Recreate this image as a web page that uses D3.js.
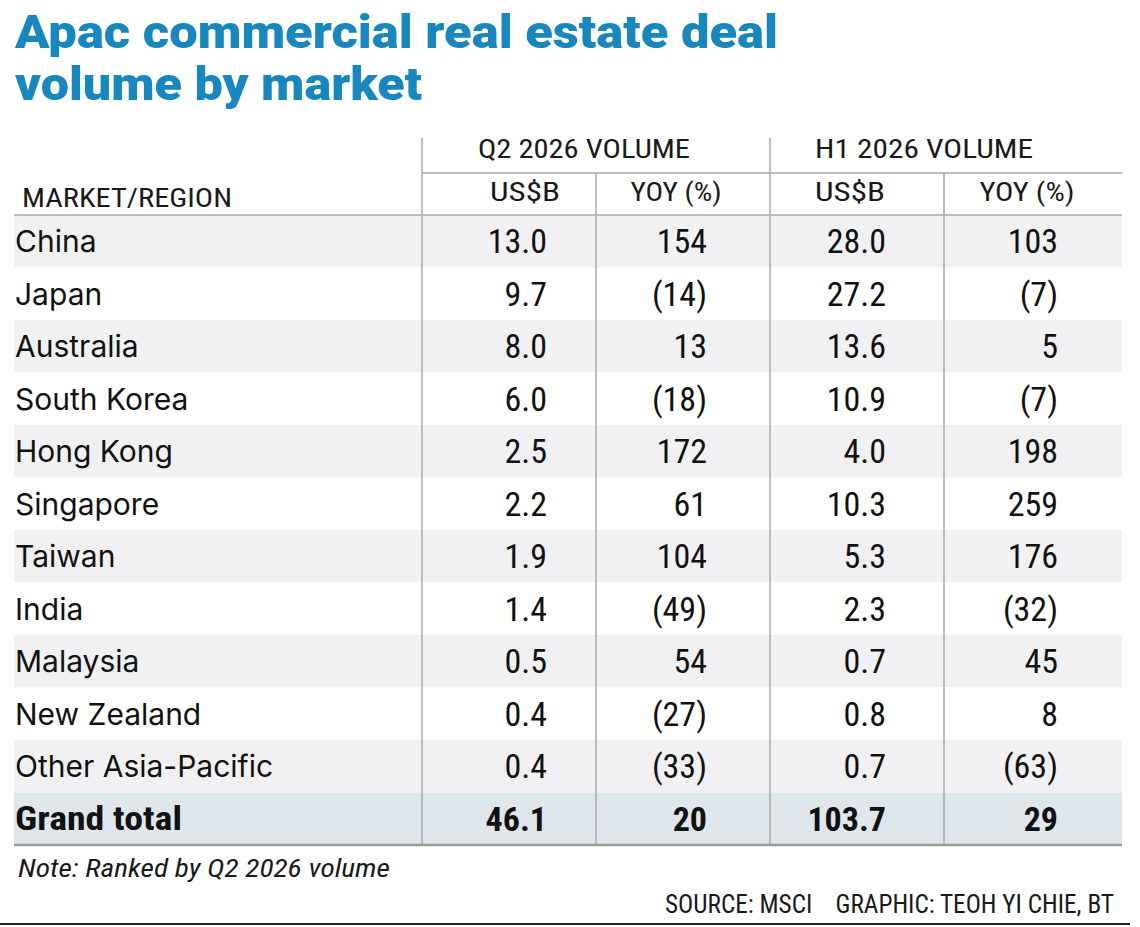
<!DOCTYPE html>
<html>
<head>
<meta charset="utf-8">
<script src="https://cdn.jsdelivr.net/npm/d3@7"></script>
<style>
  body { margin: 0; background: #fff; }
  svg { display: block; }
</style>
</head>
<body>
<div class="table_container"></div>
<script>
// data
const markets = ["China", "Japan", "Australia", "South Korea", "Hong Kong", "Singapore", "Taiwan", "India", "Malaysia", "New Zealand", "Other Asia-Pacific"];
const q2Volume = [13.0, 9.7, 8.0, 6.0, 2.5, 2.2, 1.9, 1.4, 0.5, 0.4, 0.4];
const q2Yoy = [154, -14, 13, -18, 172, 61, 104, -49, 54, -27, -33];
const h1Volume = [28.0, 27.2, 13.6, 10.9, 4.0, 10.3, 5.3, 2.3, 0.7, 0.8, 0.7];
const h1Yoy = [103, -7, 5, -7, 198, 259, 176, -32, 45, 8, -63];
const totalLabel = "Grand total";
const totals = [46.1, 20, 103.7, 29];
const groupHeaders = ["Q2 2026 VOLUME", "H1 2026 VOLUME"];
const subHeaders = ["US$B", "YOY (%)", "US$B", "YOY (%)"];

//^ DIMENSIONS //
const W = 1140, H = 927;
const tableLeft = 14, tableRight = 1122;
const colEdges = [422, 596, 770, 944, 1122];
const numRight = [547, 707, 886, 1058];
const subCenters = [525, 676, 850, 1027];
const subWidths = [70, 91, 70, 95];
const groupCenters = [584, 924];
const groupWidths = [212, 218];

const labelFont = "Inter, 'Noto Sans', sans-serif";
const narrowFont = "'Roboto Condensed', 'Liberation Sans Narrow', 'DejaVu Sans Condensed', sans-serif";

const svg = d3.select(".table_container").append("svg").attr("width", W).attr("height", H);

// fit text to a target width
function fit(sel, w) {
  sel.attr("textLength", w).attr("lengthAdjust", "spacingAndGlyphs");
}

//^ TITLE //
const titleLines = ["Apac commercial real estate deal", "volume by market"];
const titleWidths = [763, 407];
svg.selectAll(".title").data(titleLines).join("text")
  .attr("class", "title")
  .attr("x", 15)
  .attr("y", (d, i) => 48 + i * 52)
  .attr("font-family", "Roboto, sans-serif")
  .attr("font-weight", 900)
  .attr("font-size", 47)
  .attr("fill", "#1787bd")
  .text(d => d)
  .each(function (d, i) { fit(d3.select(this), titleWidths[i]); });

//^ ROW SCALE //
const rows = markets.concat([totalLabel]);
const y = d3.scaleBand().domain(rows).range([215, 845]);
const fmtVol = d3.format(".1f");
const fmtYoy = v => v < 0 ? "(" + Math.abs(v) + ")" : String(v);

const tableRows = markets.map((m, i) => ({
  name: m,
  values: [fmtVol(q2Volume[i]), fmtYoy(q2Yoy[i]), fmtVol(h1Volume[i]), fmtYoy(h1Yoy[i])],
  total: false
}));
tableRows.push({
  name: totalLabel,
  values: [fmtVol(totals[0]), fmtYoy(totals[1]), fmtVol(totals[2]), fmtYoy(totals[3])],
  total: true
});

// row backgrounds
svg.selectAll(".band").data(tableRows).join("rect")
  .attr("class", "band")
  .attr("x", tableLeft)
  .attr("y", d => y(d.name))
  .attr("width", tableRight - tableLeft)
  .attr("height", y.bandwidth())
  .attr("fill", (d, i) => d.total ? "#dfe7ed" : (i % 2 === 0 ? "#f1f1f3" : "#ffffff"));

//^ GRID LINES //
const lineColor = "#a9a9a9";
// group dividers (tall)
svg.selectAll(".vgroup").data([colEdges[0], colEdges[2]]).join("line")
  .attr("x1", d => d).attr("x2", d => d)
  .attr("y1", 138).attr("y2", 845)
  .attr("stroke", lineColor).attr("stroke-width", 1.5);
// sub dividers
svg.selectAll(".vsub").data([colEdges[1], colEdges[3]]).join("line")
  .attr("x1", d => d).attr("x2", d => d)
  .attr("y1", 173).attr("y2", 845)
  .attr("stroke", lineColor).attr("stroke-width", 1.5);
// header horizontal lines
svg.append("line").attr("x1", colEdges[0]).attr("x2", tableRight).attr("y1", 173).attr("y2", 173)
  .attr("stroke", lineColor).attr("stroke-width", 1.5);
svg.append("line").attr("x1", tableLeft).attr("x2", tableRight).attr("y1", 215).attr("y2", 215)
  .attr("stroke", lineColor).attr("stroke-width", 1.5);
svg.append("line").attr("x1", tableLeft).attr("x2", tableRight).attr("y1", 845).attr("y2", 845)
  .attr("stroke", "#9a9a9a").attr("stroke-width", 2.5);

//^ HEADERS //
svg.selectAll(".ghead").data(groupHeaders).join("text")
  .attr("x", (d, i) => groupCenters[i]).attr("y", 158)
  .attr("text-anchor", "middle")
  .attr("font-family", narrowFont).attr("font-size", 26).attr("fill", "#1a1a1a")
  .text(d => d)
  .each(function (d, i) { fit(d3.select(this), groupWidths[i]); });
svg.selectAll(".shead").data(subHeaders).join("text")
  .attr("x", (d, i) => subCenters[i]).attr("y", 201)
  .attr("text-anchor", "middle")
  .attr("font-family", narrowFont).attr("font-size", 26).attr("fill", "#1a1a1a")
  .text(d => d)
  .each(function (d, i) { fit(d3.select(this), subWidths[i]); });
svg.append("text").attr("x", 22).attr("y", 207)
  .attr("font-family", narrowFont).attr("font-size", 26).attr("fill", "#1a1a1a")
  .text("MARKET/REGION")
  .call(fit, 210);

//^ CELLS //
const rowG = svg.selectAll(".row").data(tableRows).join("g")
  .attr("class", "row")
  .attr("transform", d => "translate(0," + (y(d.name) + y.bandwidth() / 2) + ")");

rowG.append("text")
  .attr("x", 15).attr("y", 11)
  .attr("font-family", d => d.total ? narrowFont : labelFont)
  .attr("font-weight", d => d.total ? 700 : 400)
  .attr("font-size", d => d.total ? 34 : 30)
  .attr("fill", "#111")
  .text(d => d.name)
  .each(function (d) { if (d.total) fit(d3.select(this), 167); });

rowG.selectAll(".num").data(d => d.values.map(v => ({ v, total: d.total }))).join("text")
  .attr("class", "num")
  .attr("x", (d, i) => numRight[i]).attr("y", 12)
  .attr("text-anchor", "end")
  .attr("font-family", narrowFont)
  .attr("font-weight", d => d.total ? 700 : 400)
  .attr("font-size", 34)
  .attr("fill", "#111")
  .text(d => d.v);

//^ FOOTER //
svg.append("text").attr("x", 18).attr("y", 877)
  .attr("font-family", narrowFont).attr("font-style", "italic").attr("font-size", 26).attr("fill", "#1a1a1a")
  .text("Note: Ranked by Q2 2026 volume")
  .call(fit, 372);
svg.append("text").attr("x", 1114).attr("y", 913)
  .attr("text-anchor", "end")
  .attr("font-family", narrowFont).attr("font-size", 25).attr("fill", "#1a1a1a")
  .attr("xml:space", "preserve")
  .text("SOURCE: MSCI    GRAPHIC: TEOH YI CHIE, BT")
  .call(fit, 449);
svg.append("line").attr("x1", 0).attr("x2", 1130).attr("y1", 924).attr("y2", 924)
  .attr("stroke", "#222").attr("stroke-width", 2);
</script>
</body>
</html>
